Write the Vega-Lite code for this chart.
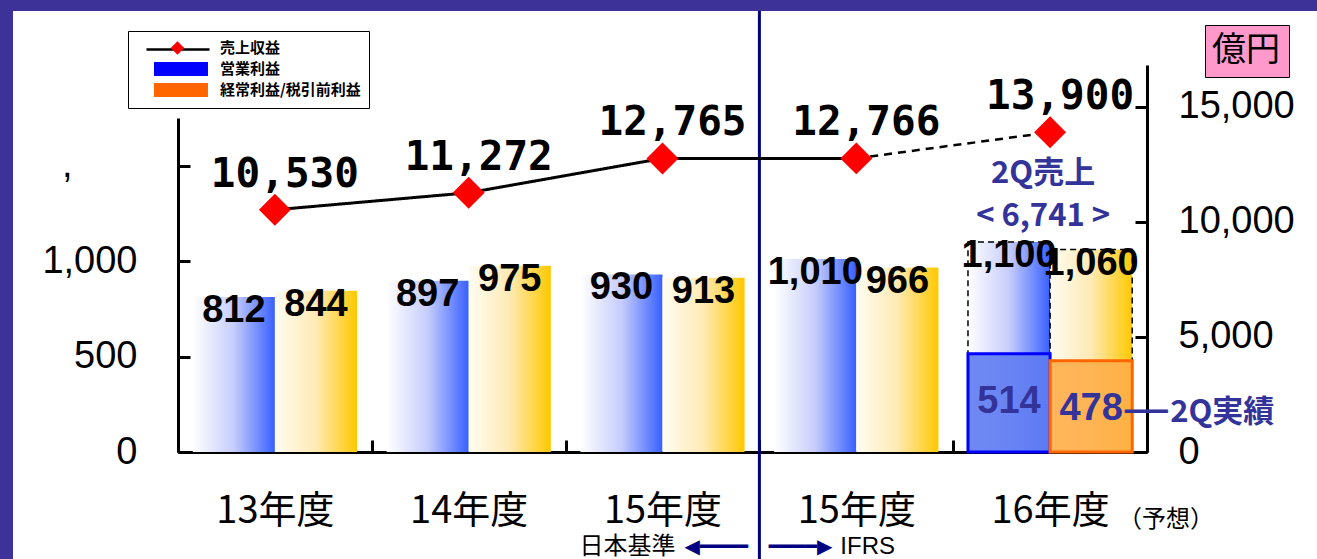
{
  "$schema": "https://vega.github.io/schema/vega-lite/v6.json",
  "width": 1304,
  "height": 548,
  "autosize": {"type": "none"},
  "padding": {"left": 13, "top": 11, "right": 0, "bottom": 0},
  "background": "#3d3298",
  "config": {
    "view": {"fill": "#ffffff", "stroke": null},
    "font": "Liberation Sans",
    "axis": {"labelLimit": 400, "grid": false, "labelOverlap": false, "labelFlush": false, "labelBound": false, "title": null, "labelAngle": 0},
    "legend": {"labelLimit": 400}
  },
  "datasets": {
    "profit": [
      {"period": "13年度", "series": "営業利益", "value": 812, "forecast": false},
      {"period": "13年度", "series": "経常利益", "value": 844, "forecast": false},
      {"period": "14年度", "series": "営業利益", "value": 897, "forecast": false},
      {"period": "14年度", "series": "経常利益", "value": 975, "forecast": false},
      {"period": "15年度 日本基準", "series": "営業利益", "value": 930, "forecast": false},
      {"period": "15年度 日本基準", "series": "経常利益", "value": 913, "forecast": false},
      {"period": "15年度 IFRS", "series": "営業利益", "value": 1010, "forecast": false},
      {"period": "15年度 IFRS", "series": "経常利益", "value": 966, "forecast": false},
      {"period": "16年度", "series": "営業利益", "value": 1100, "forecast": true},
      {"period": "16年度", "series": "経常利益", "value": 1060, "forecast": true}
    ],
    "q2": [
      {"period": "16年度", "series": "営業利益", "value": 514},
      {"period": "16年度", "series": "経常利益", "value": 478}
    ],
    "revenue": [
      {"period": "13年度", "series": "売上収益", "revenue": 10530, "forecast": false},
      {"period": "14年度", "series": "売上収益", "revenue": 11272, "forecast": false},
      {"period": "15年度 日本基準", "series": "売上収益", "revenue": 12765, "forecast": false},
      {"period": "15年度 IFRS", "series": "売上収益", "revenue": 12766, "forecast": false},
      {"period": "16年度", "series": "売上収益", "revenue": 13900, "forecast": true}
    ],
    "q2rev": [
      {"period": "16年度", "revenue": 13900, "q2_sales": 6741}
    ]
  },
  "layer": [
    {
      "data": {"name": "profit"},
      "transform": [{"filter": "datum.period === '15年度 IFRS' && datum.series === '営業利益'"}],
      "mark": {"type": "rule", "color": "#00007f", "strokeWidth": 3},
      "encoding": {
        "x": {"field": "period", "type": "nominal", "sort": null, "bandPosition": 0,
              "scale": {"domain": ["13年度", "14年度", "15年度 日本基準", "15年度 IFRS", "16年度"], "range": [165, 1134], "paddingInner": 0, "paddingOuter": 0},
              "axis": null}
      }
    },
    {
      "data": {"name": "profit"},
      "transform": [{"filter": "datum.series === '営業利益'"}],
      "mark": {"type": "bar", "strokeWidth": 1.5, "strokeDash": [6, 4],
               "fill": {"gradient": "linear", "x1": 0, "x2": 1, "y1": 0, "y2": 0,
                        "stops": [{"offset": 0, "color": "#ffffff"}, {"offset": 0.5, "color": "#c6cdfb"}, {"offset": 1, "color": "#3860ff"}]}},
      "encoding": {
        "x": {"field": "period", "type": "nominal", "sort": null,
              "scale": {"domain": ["13年度", "14年度", "15年度 日本基準", "15年度 IFRS", "16年度"], "range": [165, 1134], "paddingInner": 0, "paddingOuter": 0},
              "axis": {"orient": "bottom", "offset": -107,
                       "domainColor": "#000000", "domainWidth": 3, "tickColor": "#000000", "tickWidth": 3, "tickSize": -12, "tickBand": "extent",
                       "labelExpr": "slice(datum.label, 0, 4)", "labelFont": "Noto Sans CJK JP", "labelFontSize": 38, "labelColor": "#000000",
                       "labelBaseline": "middle", "labelPadding": 71}},
        "xOffset": {"field": "series", "type": "nominal", "sort": null, "scale": {"domain": ["営業利益", "経常利益"], "paddingInner": 0, "paddingOuter": 0.18}},
        "y": {"field": "value", "type": "quantitative",
              "scale": {"domain": [0, 1749], "range": [441, 107], "nice": false, "zero": true},
              "axis": {"orient": "left", "offset": -165, "values": [0, 500, 1000, 1500],
                       "labelExpr": "datum.value == 1500 ? '' : format(datum.value, ',')",
                       "domainColor": "#000000", "domainWidth": 3, "tickColor": "#000000", "tickWidth": 3, "tickSize": -12,
                       "labelFont": "Liberation Sans", "labelFontSize": 38, "labelColor": "#000000", "labelPadding": 53}},
        "stroke": {"condition": {"test": "datum.forecast", "value": "#000000"}, "value": "transparent"}
      }
    },
    {
      "data": {"name": "profit"},
      "transform": [{"filter": "datum.series === '経常利益'"}],
      "mark": {"type": "bar", "strokeWidth": 1.5, "strokeDash": [6, 4],
               "fill": {"gradient": "linear", "x1": 0, "x2": 1, "y1": 0, "y2": 0,
                        "stops": [{"offset": 0, "color": "#fffcf2"}, {"offset": 0.5, "color": "#feeab4"}, {"offset": 1, "color": "#ffc800"}]}},
      "encoding": {
        "x": {"field": "period", "type": "nominal", "sort": null,
              "scale": {"domain": ["13年度", "14年度", "15年度 日本基準", "15年度 IFRS", "16年度"], "range": [165, 1134], "paddingInner": 0, "paddingOuter": 0},
              "axis": {"orient": "bottom", "offset": -107, "domain": false, "ticks": false,
                       "labelExpr": "datum.value == '16年度' ? '（予想）' : ''",
                       "labelFont": "Noto Sans CJK JP", "labelFontSize": 24, "labelColor": "#000000", "labelBaseline": "middle",
                       "labelAlign": "left", "labelOffset": 68, "labelPadding": 67}},
        "xOffset": {"field": "series", "type": "nominal", "sort": null, "scale": {"domain": ["営業利益", "経常利益"], "paddingInner": 0, "paddingOuter": 0.18}},
        "y": {"field": "value", "type": "quantitative", "scale": {"domain": [0, 1749], "range": [441, 107], "nice": false, "zero": true}, "axis": null},
        "stroke": {"condition": {"test": "datum.forecast", "value": "#000000"}, "value": "transparent"}
      }
    },
    {
      "data": {"name": "q2"},
      "mark": {"type": "bar", "strokeWidth": 3, "fillOpacity": 0.9},
      "encoding": {
        "x": {"field": "period", "type": "nominal", "sort": null,
              "scale": {"domain": ["13年度", "14年度", "15年度 日本基準", "15年度 IFRS", "16年度"], "range": [165, 1134], "paddingInner": 0, "paddingOuter": 0},
              "axis": {"orient": "bottom", "offset": -107, "domain": false, "ticks": false,
                       "labelExpr": "datum.value == '15年度 日本基準' ? '日本基準' : ''",
                       "labelFont": "Noto Sans CJK JP", "labelFontSize": 24, "labelColor": "#000000", "labelBaseline": "middle",
                       "labelAlign": "right", "labelOffset": 13, "labelPadding": 94}},
        "xOffset": {"field": "series", "type": "nominal", "sort": null, "scale": {"domain": ["営業利益", "経常利益"], "paddingInner": 0, "paddingOuter": 0.18}},
        "y": {"field": "value", "type": "quantitative", "scale": {"domain": [0, 1749], "range": [441, 107], "nice": false, "zero": true},
              "axis": {"orient": "left", "offset": -165, "values": [1500], "labelExpr": "','", "domain": false, "ticks": false,
                       "labelFont": "Liberation Sans", "labelFontSize": 38, "labelColor": "#000000", "labelPadding": 106}},
        "fill": {"field": "series", "type": "nominal", "scale": {"domain": ["営業利益", "経常利益"], "range": ["#5f7cf2", "#ffae4a"]}, "legend": null},
        "stroke": {"field": "series", "type": "nominal", "scale": {"domain": ["営業利益", "経常利益"], "range": ["#0000ff", "#ff6600"]}, "legend": null}
      }
    },
    {
      "data": {"name": "profit"},
      "mark": {"type": "text", "font": "Liberation Sans", "fontSize": 38, "fontWeight": "bold", "color": "#000000", "baseline": "middle", "dy": 14},
      "encoding": {
        "x": {"field": "period", "type": "nominal", "sort": null,
              "scale": {"domain": ["13年度", "14年度", "15年度 日本基準", "15年度 IFRS", "16年度"], "range": [165, 1134], "paddingInner": 0, "paddingOuter": 0},
              "axis": {"orient": "bottom", "offset": -107, "domain": false, "ticks": false,
                       "labelExpr": "datum.value == '15年度 IFRS' ? 'IFRS' : ''",
                       "labelFont": "Liberation Sans", "labelFontSize": 24, "labelColor": "#000000", "labelBaseline": "middle",
                       "labelAlign": "left", "labelOffset": -16, "labelPadding": 94}},
        "xOffset": {"field": "series", "type": "nominal", "sort": null, "scale": {"domain": ["営業利益", "経常利益"], "paddingInner": 0, "paddingOuter": 0.18}},
        "y": {"field": "value", "type": "quantitative", "scale": {"domain": [0, 1749], "range": [441, 107], "nice": false, "zero": true}, "axis": null},
        "text": {"field": "value", "type": "quantitative", "format": ","}
      }
    },
    {
      "data": {"name": "q2"},
      "mark": {"type": "text", "font": "Liberation Sans", "fontSize": 38, "fontWeight": "bold", "color": "#333399", "baseline": "middle", "dy": 48},
      "encoding": {
        "x": {"field": "period", "type": "nominal", "sort": null,
              "scale": {"domain": ["13年度", "14年度", "15年度 日本基準", "15年度 IFRS", "16年度"], "range": [165, 1134], "paddingInner": 0, "paddingOuter": 0},
              "axis": {"orient": "bottom", "offset": -107, "domain": false, "ticks": false,
                       "labelExpr": "datum.value == '15年度 日本基準' ? '◀━━━━' : ''",
                       "labelFont": "DejaVu Sans", "labelFontSize": 20, "labelColor": "#000080", "labelBaseline": "middle",
                       "labelAlign": "left", "labelOffset": 22, "labelPadding": 94}},
        "xOffset": {"field": "series", "type": "nominal", "sort": null, "scale": {"domain": ["営業利益", "経常利益"], "paddingInner": 0, "paddingOuter": 0.18}},
        "y": {"field": "value", "type": "quantitative", "scale": {"domain": [0, 1749], "range": [441, 107], "nice": false, "zero": true}, "axis": null},
        "text": {"field": "value", "type": "quantitative", "format": ","}
      }
    },
    {
      "data": {"name": "revenue"},
      "transform": [{"filter": "datum.period !== '16年度'"}],
      "mark": {"type": "line", "color": "#000000", "strokeWidth": 3},
      "encoding": {
        "x": {"field": "period", "type": "nominal", "sort": null,
              "scale": {"domain": ["13年度", "14年度", "15年度 日本基準", "15年度 IFRS", "16年度"], "range": [165, 1134], "paddingInner": 0, "paddingOuter": 0},
              "axis": {"orient": "bottom", "offset": -107, "domain": false, "ticks": false,
                       "labelExpr": "datum.value == '15年度 IFRS' ? '━━━━▶' : ''",
                       "labelFont": "DejaVu Sans", "labelFontSize": 20, "labelColor": "#000080", "labelBaseline": "middle",
                       "labelAlign": "right", "labelOffset": -24, "labelPadding": 94}},
        "y": {"field": "revenue", "type": "quantitative",
              "scale": {"domain": [0, 16826], "range": [441, 54], "nice": false, "zero": true},
              "axis": {"orient": "right", "offset": -170, "values": [0, 5000, 10000, 15000],
                       "labelExpr": "format(datum.value, ',')",
                       "domainColor": "#000000", "domainWidth": 3, "tickColor": "#000000", "tickWidth": 3, "tickSize": -12,
                       "labelFont": "Liberation Sans", "labelFontSize": 38, "labelColor": "#000000", "labelPadding": 43}},
        "strokeDash": {"datum": "億円", "type": "nominal",
                       "scale": {"domain": ["億円"], "range": [[1, 0]]},
                       "legend": {"orient": "none", "legendX": 1192, "legendY": 14, "title": null,
                                  "fillColor": "#ff99cc", "strokeColor": "#000000", "padding": 9,
                                  "symbolSize": 1, "symbolOpacity": 0, "symbolStrokeWidth": 0, "labelOffset": -36,
                                  "labelFont": "Noto Sans CJK JP", "labelFontSize": 34, "labelColor": "#000000"}}
      }
    },
    {
      "data": {"name": "revenue"},
      "transform": [{"filter": "datum.period === '15年度 IFRS' || datum.period === '16年度'"}],
      "mark": {"type": "line", "color": "#000000", "strokeWidth": 2.5, "strokeDash": [8, 6]},
      "encoding": {
        "x": {"field": "period", "type": "nominal", "sort": null,
              "scale": {"domain": ["13年度", "14年度", "15年度 日本基準", "15年度 IFRS", "16年度"], "range": [165, 1134], "paddingInner": 0, "paddingOuter": 0},
              "axis": null},
        "y": {"field": "revenue", "type": "quantitative", "scale": {"domain": [0, 16826], "range": [441, 54], "nice": false, "zero": true}, "axis": null},
        "opacity": {"datum": "売上収益", "type": "ordinal",
                    "scale": {"domain": ["売上収益"], "range": [1]},
                    "legend": {"orient": "none", "legendX": 132, "legendY": 5.5, "title": null, "padding": 0,
                               "symbolType": "stroke", "symbolSize": 3969, "symbolOffset": 0,
                               "symbolStrokeColor": "#000000", "symbolStrokeWidth": 2.5, "symbolOpacity": 1, "symbolDash": [1, 0],
                               "labelExpr": "''", "labelOpacity": 0, "labelFontSize": 1, "labelOffset": 0}}
      }
    },
    {
      "data": {"name": "revenue"},
      "mark": {"type": "point", "filled": true, "opacity": 1, "size": 1414},
      "encoding": {
        "x": {"field": "period", "type": "nominal", "sort": null,
              "scale": {"domain": ["13年度", "14年度", "15年度 日本基準", "15年度 IFRS", "16年度"], "range": [165, 1134], "paddingInner": 0, "paddingOuter": 0},
              "axis": null},
        "y": {"field": "revenue", "type": "quantitative", "scale": {"domain": [0, 16826], "range": [441, 54], "nice": false, "zero": true}, "axis": null},
        "color": {"field": "series", "type": "nominal",
                  "scale": {"domain": ["売上収益", "営業利益", "経常利益/税引前利益"], "range": ["#ff0000", "#0000ff", "#ff6600"]},
                  "legend": {"orient": "none", "legendX": 115, "legendY": 20, "title": null,
                             "strokeColor": "#000000", "padding": 8,
                             "symbolSize": 256, "symbolOffset": 32.5, "labelOffset": 33.5, "rowPadding": 1,
                             "symbolOpacity": 1,
                             "labelFont": "Noto Sans CJK JP", "labelFontSize": 15, "labelFontWeight": "bold", "labelColor": "#000000"}},
        "shape": {"field": "series", "type": "nominal",
                  "scale": {"domain": ["売上収益", "営業利益", "経常利益/税引前利益"],
                            "range": ["M0,-0.85L0.85,0L0,0.85L-0.85,0Z", "M-2.94,-0.875H3.81V0.875H-2.94Z", "M-2.94,-0.875H3.81V0.875H-2.94Z"]},
                  "legend": {"orient": "none", "legendX": 115, "legendY": 20, "title": null,
                             "strokeColor": "#000000", "padding": 8,
                             "symbolSize": 256, "symbolOffset": 32.5, "labelOffset": 33.5, "rowPadding": 1,
                             "symbolOpacity": 1,
                             "labelFont": "Noto Sans CJK JP", "labelFontSize": 15, "labelFontWeight": "bold", "labelColor": "#000000"}}
      }
    },
    {
      "data": {"name": "revenue"},
      "mark": {"type": "text", "font": "DejaVu Sans Mono", "fontSize": 41, "fontWeight": "bold", "color": "#000000", "baseline": "middle", "dx": 10, "dy": -35},
      "encoding": {
        "x": {"field": "period", "type": "nominal", "sort": null,
              "scale": {"domain": ["13年度", "14年度", "15年度 日本基準", "15年度 IFRS", "16年度"], "range": [165, 1134], "paddingInner": 0, "paddingOuter": 0},
              "axis": null},
        "y": {"field": "revenue", "type": "quantitative", "scale": {"domain": [0, 16826], "range": [441, 54], "nice": false, "zero": true}, "axis": null},
        "text": {"field": "revenue", "type": "quantitative", "format": ","}
      }
    },
    {
      "data": {"name": "q2rev"},
      "transform": [{"calculate": "['2Q売上', '< ' + format(datum.q2_sales, ',') + ' >']", "as": "lbl"}],
      "mark": {"type": "text", "font": "Noto Sans CJK JP", "fontSize": 31, "fontWeight": "bold", "color": "#333399", "baseline": "top", "lineHeight": 43, "dx": -7, "dy": 27},
      "encoding": {
        "x": {"field": "period", "type": "nominal", "sort": null,
              "scale": {"domain": ["13年度", "14年度", "15年度 日本基準", "15年度 IFRS", "16年度"], "range": [165, 1134], "paddingInner": 0, "paddingOuter": 0},
              "axis": null},
        "y": {"field": "revenue", "type": "quantitative", "scale": {"domain": [0, 16826], "range": [441, 54], "nice": false, "zero": true}, "axis": null},
        "text": {"field": "lbl", "type": "nominal"}
      }
    },
    {
      "data": {"name": "q2"},
      "transform": [{"filter": "datum.series === '経常利益'"}],
      "mark": {"type": "text", "text": "—", "font": "DejaVu Sans", "fontSize": 48, "color": "#333399", "align": "left", "baseline": "middle", "dx": 31, "dy": 50},
      "encoding": {
        "x": {"field": "period", "type": "nominal", "sort": null,
              "scale": {"domain": ["13年度", "14年度", "15年度 日本基準", "15年度 IFRS", "16年度"], "range": [165, 1134], "paddingInner": 0, "paddingOuter": 0},
              "axis": null},
        "xOffset": {"field": "series", "type": "nominal", "sort": null, "scale": {"domain": ["営業利益", "経常利益"], "paddingInner": 0, "paddingOuter": 0.18}},
        "y": {"field": "value", "type": "quantitative", "scale": {"domain": [0, 1749], "range": [441, 107], "nice": false, "zero": true}, "axis": null}
      }
    },
    {
      "data": {"name": "q2"},
      "transform": [{"filter": "datum.series === '経常利益'"}],
      "mark": {"type": "text", "text": "2Q実績", "font": "Noto Sans CJK JP", "fontSize": 31, "fontWeight": "bold", "color": "#333399", "align": "left", "baseline": "middle", "dx": 79, "dy": 52},
      "encoding": {
        "x": {"field": "period", "type": "nominal", "sort": null,
              "scale": {"domain": ["13年度", "14年度", "15年度 日本基準", "15年度 IFRS", "16年度"], "range": [165, 1134], "paddingInner": 0, "paddingOuter": 0},
              "axis": null},
        "xOffset": {"field": "series", "type": "nominal", "sort": null, "scale": {"domain": ["営業利益", "経常利益"], "paddingInner": 0, "paddingOuter": 0.18}},
        "y": {"field": "value", "type": "quantitative", "scale": {"domain": [0, 1749], "range": [441, 107], "nice": false, "zero": true}, "axis": null}
      }
    }
  ],
  "resolve": {"scale": {"y": "independent"}, "axis": {"x": "independent", "y": "independent"}}
}
